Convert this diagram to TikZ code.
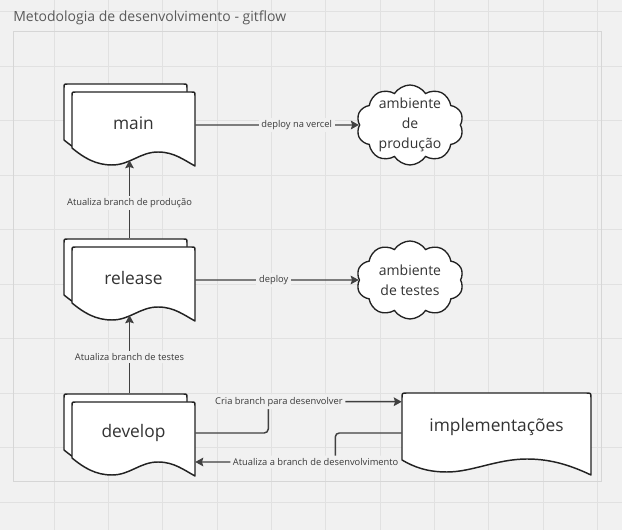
\documentclass[tikz,border=0pt]{standalone}
\usepackage{fontspec}
\setmainfont{Open Sans}
\usetikzlibrary{arrows.meta,calc,shapes.symbols}
\definecolor{canvas}{HTML}{F1F1F1}
\definecolor{gridc}{HTML}{E1E1E1}
\definecolor{framec}{HTML}{D6D6D6}
\definecolor{ink}{HTML}{222222}
\definecolor{txt}{HTML}{333333}
\definecolor{conn}{HTML}{404040}
\definecolor{lbl}{HTML}{3A3A3A}
\definecolor{titlec}{HTML}{5A5A5A}
\tikzset{
 shapeborder/.style={draw=ink, line width=1.1pt, fill=white, line join=round},
 doctext/.style={inner sep=0pt, minimum width=92.25pt, minimum height=46.5pt, font=\fontsize{13}{15}\selectfont, text=txt},
 cloudbox/.style={cloud, cloud puffs=10, cloud puff arc=115, cloud ignores aspect, draw=ink, line width=1pt, fill=white, inner sep=0pt, minimum width=80.25pt, minimum height=60pt},
 cloudtext/.style={align=center, inner sep=0pt, font=\fontsize{10.5}{15}\selectfont, text=txt},
 connector/.style={draw=conn, line width=1.1pt, -{Stealth[length=6pt,width=6.5pt,inset=1pt]}},
 lbltext/.style={fill=canvas, inner sep=2pt, font=\fontsize{7}{8}\selectfont, text=lbl},
}
\newcommand\stackdoc[1]{%
 \begin{scope}[shift={#1}]
  \path[shapeborder] (-8,48) -- (-8,-4) .. controls (-8,-8) .. (-4,-8) -- (111,-8) .. controls (115,-8) .. (115,-4) -- (115,66) .. controls (104,60) and (94,52) .. (78,52) .. controls (60,52) and (50,65) .. (32,65) .. controls (16,65) and (4,58) .. (-8,48) -- cycle;
  \path[shapeborder] (0,56) -- (0,4) .. controls (0,0) .. (4,0) -- (119,0) .. controls (123,0) .. (123,4) -- (123,74) .. controls (112,68) and (102,60) .. (86,60) .. controls (68,60) and (58,73) .. (40,73) .. controls (24,73) and (12,66) .. (0,56) -- cycle;
 \end{scope}}
\begin{document}
\begin{tikzpicture}[x=0.75pt, y=-0.75pt]
\fill[canvas] (0,0) rectangle (622,530);
\useasboundingbox (0,0) rectangle (622,530);
\foreach \k in {1,...,11} \draw[gridc, line width=0.75pt] (54.3*\k,0) -- (54.3*\k,530);
\foreach \k in {0,...,9} \draw[gridc, line width=0.75pt] (0,12+54.5*\k) -- (622,12+54.5*\k);
\draw[framec, line width=0.75pt] (13,32) rectangle (601,482);
\node[anchor=base west, inner sep=0pt, font=\fontsize{10.5}{12}\selectfont, text=titlec] (title) at (13,22) {Metodologia de desenvolvimento - gitflow};
% document shapes
\stackdoc{(72,92)}
\stackdoc{(72,247)}
\stackdoc{(72,402)}
\begin{scope}[shift={(402,393)}]
 \path[shapeborder] (0,67) -- (0,5) .. controls (0,0) .. (5,0) -- (184,0) .. controls (189,0) .. (189,5) -- (189,82) .. controls (170,73) and (150,66) .. (125,66) .. controls (95,66) and (70,79) .. (45,79) .. controls (25,79) and (12,74) .. (0,67) -- cycle;
\end{scope}
% nodes
\node[doctext] (main) at (133.5,123) {main};
\node[doctext] (release) at (133.5,278) {release};
\node[doctext] (develop) at (133.5,433) {develop};
\node[doctext, minimum width=141.75pt, minimum height=51pt] (impl) at (496.5,427) {implementações};
\node[cloudbox] (prod) at (410,125) {};
\node[cloudtext] (prodtxt) at (prod.center) {ambiente\\de\\produção};
\node[cloudbox, minimum height=58.5pt] (testes) at (410,280) {};
\node[cloudtext] (testestxt) at (testes.center) {ambiente\\de testes};
% connectors
\draw[connector] ($(main.east)+(0,2)$) -- node[lbltext, pos=0.62]{deploy na vercel} (prod.west);
\draw[connector] ($(release.east)+(0,2)$) -- node[lbltext, pos=0.48]{deploy} (testes.west);
\draw[connector] ($(release.north)+(-4,-9)$) -- node[lbltext, pos=0.45]{Atualiza branch de produção} ($(main.south)+(-4,6)$);
\draw[connector] ($(develop.north)+(-4,-9)$) -- node[lbltext, pos=0.46]{Atualiza branch de testes} ($(release.south)+(-4,6)$);
\coordinate (implin) at ($(impl.north west)+(0,9)$);
\coordinate (implout) at ($(impl.west)+(0,6)$);
\coordinate (devin) at ($(develop.east)+(0,29)$);
\draw[connector, rounded corners=3pt] (develop.east) -- ($(develop.east)+(73,0)$) |- node[lbltext, pos=0.54]{Cria branch para desenvolver} (implin);
\draw[connector, rounded corners=3pt] (implout) -| ($(devin)+(140,0)$) -- node[lbltext, pos=0.14]{Atualiza a branch de desenvolvimento} (devin);
\end{tikzpicture}
\end{document}
